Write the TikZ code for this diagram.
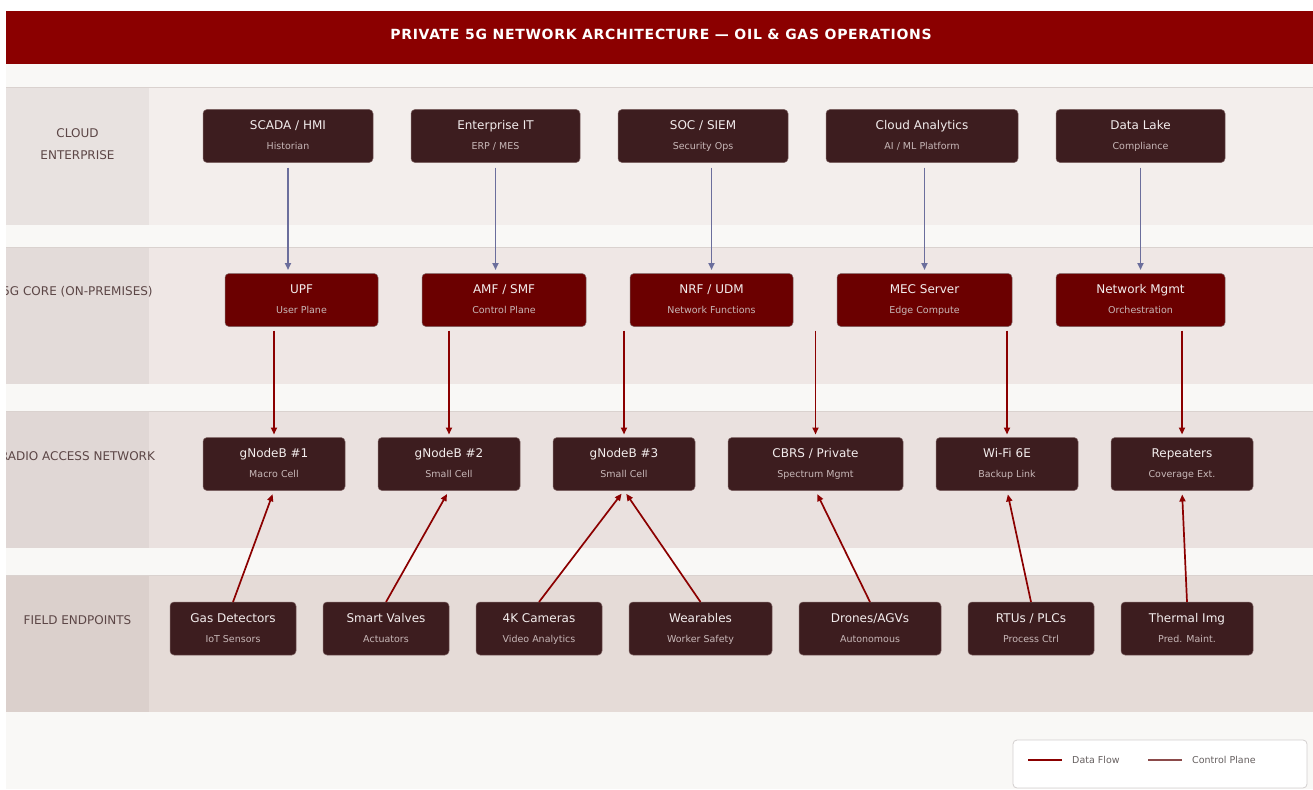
\documentclass[tikz,border=0pt]{standalone}
\usepackage{fontspec}
\setmainfont{DejaVu Sans}
\newfontfamily\titlefont[LetterSpace=5]{DejaVu Sans}
\usepackage{xcolor}
\usetikzlibrary{positioning, arrows.meta}

\definecolor{titlered}{HTML}{8B0000}
\definecolor{pagebg}{HTML}{F9F8F6}
\definecolor{laneAlab}{HTML}{E8E2E0}
\definecolor{laneAbody}{HTML}{F3EEEC}
\definecolor{laneBlab}{HTML}{E3DBD9}
\definecolor{laneBbody}{HTML}{EFE7E5}
\definecolor{laneClab}{HTML}{E0D7D5}
\definecolor{laneCbody}{HTML}{EAE1DF}
\definecolor{laneDlab}{HTML}{DBD0CC}
\definecolor{laneDbody}{HTML}{E5DBD7}
\definecolor{laneedge}{HTML}{DAD2CF}
\definecolor{lanetext}{HTML}{5C4646}
\definecolor{darkbox}{HTML}{3D1D1F}
\definecolor{corebox}{HTML}{6B0000}
\definecolor{boxedge}{HTML}{7D6262}
\definecolor{boxtext}{HTML}{F3EDED}
\definecolor{subtext}{HTML}{C8B8B8}
\definecolor{ctrlblue}{HTML}{6B6E9C}
\definecolor{datared}{HTML}{8B0000}
\definecolor{ctrlbrown}{HTML}{8B4A4A}
\definecolor{legendedge}{HTML}{D3CFCF}
\definecolor{legendtext}{HTML}{666060}

\newcommand{\sublabel}[1]{{\fontsize{9.5}{20}\selectfont\color{subtext}#1\vphantom{gyp}}}
\newcommand{\boxlabel}[2]{#1\vphantom{Ild}\\\sublabel{#2}}

\tikzset{
  tier/.style={rectangle, rounded corners=4pt, fill=darkbox, draw=boxedge, line width=0.5pt,
    inner sep=0pt, outer sep=0pt, minimum height=53pt, text=boxtext, align=center,
    font=\fontsize{12}{20}\selectfont},
  core/.style={tier, fill=corebox},
  lanelabel/.style={text=lanetext, align=center, font=\fontsize{12}{22}\selectfont},
  titletext/.style={text=white, font=\titlefont\bfseries\fontsize{14}{16}\selectfont},
  ctrlflow/.style={draw=ctrlblue, line width=1.7pt, -{Triangle[length=7pt,width=6pt]},
    shorten <=5pt, shorten >=3.5pt},
  dataflow/.style={draw=datared, line width=1.7pt, -{Triangle[length=7pt,width=6pt]}},
  legendbox/.style={rectangle, rounded corners=4pt, fill=white, draw=legendedge, line width=0.8pt,
    minimum width=294pt, minimum height=48pt},
  legendlabel/.style={text=legendtext, inner sep=0pt, font=\fontsize{9.5}{11}\selectfont}
}

\begin{document}
\begin{tikzpicture}[x=1pt, y=-1pt]
\useasboundingbox (0,0) rectangle (1313,789);
\fill[white] (0,0) rectangle (1313,789);
\fill[pagebg] (6,11) rectangle (1313,789);
\fill[titlered] (6,11) rectangle (1313,64);
\node[titletext] (title) at (661,34) {PRIVATE 5G NETWORK ARCHITECTURE — OIL \& GAS OPERATIONS};

\fill[laneAlab] (6,88) rectangle (149,225);
\fill[laneAbody] (149,88) rectangle (1313,225);
\draw[laneedge, line width=1pt] (6,88) -- (1313,88);
\fill[laneBlab] (6,247) rectangle (149,384);
\fill[laneBbody] (149,247) rectangle (1313,384);
\draw[laneedge, line width=1pt] (6,247) -- (1313,247);
\fill[laneClab] (6,411) rectangle (149,548);
\fill[laneCbody] (149,411) rectangle (1313,548);
\draw[laneedge, line width=1pt] (6,411) -- (1313,411);
\fill[laneDlab] (6,575) rectangle (149,712);
\fill[laneDbody] (149,575) rectangle (1313,712);
\draw[laneedge, line width=1pt] (6,575) -- (1313,575);

\begin{scope}
\clip (6,64) rectangle (1313,789);
\node[lanelabel] (lcloud) at (77.5,144) {CLOUD\\ENTERPRISE};
\node[lanelabel] (lcore) at (77.5,292) {5G CORE (ON-PREMISES)};
\node[lanelabel] (lran) at (77.5,456) {RADIO ACCESS NETWORK};
\node[lanelabel] (lfield) at (77.5,620) {FIELD ENDPOINTS};
\end{scope}

\node[tier, minimum width=170pt] (scada) at (288,136) {\boxlabel{SCADA / HMI}{Historian}};
\node[tier, minimum width=169pt, right=38pt of scada] (entit) {\boxlabel{Enterprise IT}{ERP / MES}};
\node[tier, minimum width=170pt, right=38pt of entit] (soc) {\boxlabel{SOC / SIEM}{Security Ops}};
\node[tier, minimum width=192pt, right=38pt of soc] (analytics) {\boxlabel{Cloud Analytics}{AI / ML Platform}};
\node[tier, minimum width=169pt, right=38pt of analytics] (lake) {\boxlabel{Data Lake}{Compliance}};

\node[core, minimum width=153pt] (upf) at (301.5,300) {\boxlabel{UPF}{User Plane}};
\node[core, minimum width=164pt, right=44pt of upf] (amf) {\boxlabel{AMF / SMF}{Control Plane}};
\node[core, minimum width=163pt, right=44pt of amf] (nrf) {\boxlabel{NRF / UDM}{Network Functions}};
\node[core, minimum width=175pt, right=44pt of nrf] (mec) {\boxlabel{MEC Server}{Edge Compute}};
\node[core, minimum width=169pt, right=44pt of mec] (mgmt) {\boxlabel{Network Mgmt}{Orchestration}};

\node[tier, minimum width=142pt] (gnbA) at (274,464) {\boxlabel{gNodeB \#1}{Macro Cell}};
\node[tier, minimum width=142pt, right=33pt of gnbA] (gnbB) {\boxlabel{gNodeB \#2}{Small Cell}};
\node[tier, minimum width=142pt, right=33pt of gnbB] (gnbC) {\boxlabel{gNodeB \#3}{Small Cell}};
\node[tier, minimum width=175pt, right=33pt of gnbC] (cbrs) {\boxlabel{CBRS / Private}{Spectrum Mgmt}};
\node[tier, minimum width=142pt, right=33pt of cbrs] (wifi) {\boxlabel{Wi-Fi 6E}{Backup Link}};
\node[tier, minimum width=142pt, right=33pt of wifi] (rep) {\boxlabel{Repeaters}{Coverage Ext.}};

\node[tier, minimum width=126pt] (gas) at (233,628.5) {\boxlabel{Gas Detectors}{IoT Sensors}};
\node[tier, minimum width=126pt, right=27pt of gas] (valves) {\boxlabel{Smart Valves}{Actuators}};
\node[tier, minimum width=126pt, right=27pt of valves] (cams) {\boxlabel{4K Cameras}{Video Analytics}};
\node[tier, minimum width=143pt, right=27pt of cams] (wear) {\boxlabel{Wearables}{Worker Safety}};
\node[tier, minimum width=142pt, right=27pt of wear] (drones) {\boxlabel{Drones/AGVs}{Autonomous}};
\node[tier, minimum width=126pt, right=27pt of drones] (rtu) {\boxlabel{RTUs / PLCs}{Process Ctrl}};
\node[tier, minimum width=132pt, right=27pt of rtu] (thermal) {\boxlabel{Thermal Img}{Pred. Maint.}};

\draw[ctrlflow] (scada.south) -- (scada.south |- upf.north);
\draw[ctrlflow] (entit.south) -- (entit.south |- amf.north);
\draw[ctrlflow] (soc.south -| nrf.north) -- (nrf.north);
\draw[ctrlflow] (analytics.south -| mec.north) -- (mec.north);
\draw[ctrlflow] (lake.south) -- (mgmt.north);

\draw[dataflow, shorten <=4pt, shorten >=3pt] (gnbA.north |- upf.south) -- (gnbA.north);
\draw[dataflow, shorten <=4pt, shorten >=3pt] (gnbB.north |- amf.south) -- (gnbB.north);
\draw[dataflow, shorten <=4pt, shorten >=3pt] (gnbC.north |- nrf.south) -- (gnbC.north);
\draw[dataflow, shorten <=4pt, shorten >=3pt] (cbrs.north |- mec.south) -- (cbrs.north);
\draw[dataflow, shorten <=4pt, shorten >=3pt] (wifi.north |- mec.south) -- (wifi.north);
\draw[dataflow, shorten <=4pt, shorten >=3pt] (rep.north |- mgmt.south) -- (rep.north);

\draw[dataflow, shorten >=4pt] (gas.north) -- (gnbA.south);
\draw[dataflow, shorten >=4pt] (valves.north) -- (gnbB.south);
\draw[dataflow, shorten >=4pt] (cams.north) -- (gnbC.south);
\draw[dataflow, shorten >=4pt] (wear.north) -- (gnbC.south);
\draw[dataflow, shorten >=4pt] (drones.north) -- (cbrs.south);
\draw[dataflow, shorten >=4pt] (rtu.north) -- (wifi.south);
\draw[dataflow, shorten >=4pt] (thermal.north) -- (rep.south);

\node[legendbox] (legend) at (1160,764) {};
\node[legendlabel, anchor=west] (lgdata) at (1072,760) {Data Flow};
\node[legendlabel, anchor=west] (lgctrl) at (1192,760) {Control Plane};
\draw[datared, line width=2pt] ([xshift=-44pt]lgdata.west) -- ([xshift=-10pt]lgdata.west);
\draw[ctrlbrown, line width=2pt] ([xshift=-44pt]lgctrl.west) -- ([xshift=-10pt]lgctrl.west);
\end{tikzpicture}
\end{document}
